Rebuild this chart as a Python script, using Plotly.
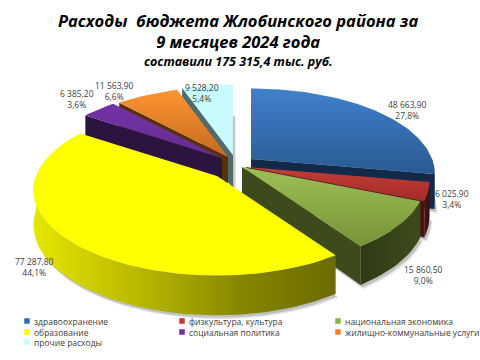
import math
import plotly.graph_objects as go

# ---------- data ----------
categories = ["здравоохранение", "физкультура, культура", "национальная экономика",
              "образование", "социальная политика", "жилищно-коммунальные услуги",
              "прочие расходы"]
values = [48663.9, 6025.9, 15860.5, 77287.8, 6385.2, 11563.9, 9528.2]
value_labels = ["48 663,90", "6 025,90", "15 860,50", "77 287,80", "6 385,20", "11 563,90", "9 528,20"]
pct_labels = ["27,8%", "3,4%", "9,0%", "44,1%", "3,6%", "6,6%", "5,4%"]
title_lines = ["Расходы  бюджета Жлобинского района за", "9 месяцев 2024 года"]
subtitle = "составили 175 315,4 тыс. руб."

# ---------- styles / layout ----------
FONT = "'Open Sans', sans-serif"
TITLE_FONT = "'Open Sans', sans-serif"
RX, RY, K, DEPTH = 181, 85, 0.17, 34
centers = [(251, 159), (246, 167), (242, 167), (217, 176), (222, 158), (228, 157), (233, 155)]
top_grad = [("#2A5A92", "#4080CC"), ("#A32C28", "#C43D37"), ("#779438", "#9DBF57"),
            ("#FFFF00", "#FFFF00"), ("#652C90", "#7432A6"), ("#C46A1E", "#FF9433"),
            ("#C8FBFB", "#C8FBFB")]
wall_col = ["#12294A", "#4A1212", "#3D4B1C", "#8A8A00", "#2B1440", "#5A2F0C", "#516B6B"]
arc_grad = {
    0: [[0, "#12294A"], [1, "#12294A"]],
    1: [[0, "#4A1212"], [1, "#3A0E0E"]],
    2: [[0, "#2F3A14"], [1, "#3D4B1C"]],
    3: [[0, "#E6E600"], [0.35, "#B8B800"], [0.7, "#858500"], [1, "#6B6B00"]],
}
label_pos = [(407, 104), (452, 193), (423, 269), (34, 261), (77, 93), (114, 85), (202, 87)]
legend_pos = [(27, 321), (182, 321), (338, 321), (27, 332), (182, 332), (338, 332), (27, 342)]
legend_col = ["#2F6DB5", "#C0392F", "#8DB048", "#FFFF00", "#7030A0", "#F58220", "#C8FBFB"]
draw_order = [6, 5, 4, 0, 1, 2, 3]

# ---------- geometry from values ----------
total = sum(values)
bounds, acc = [], 0.0
for v in values:
    bounds.append((acc / total * 360, (acc + v) / total * 360))
    acc += v


def pt(i, deg):
    a = math.radians(deg)
    u, v = math.sin(a), -math.cos(a)
    s = 1 + K * v
    return centers[i][0] + RX * u * s, centers[i][1] + RY * v * s, DEPTH * s


def arc(i, a0, a1, n=None):
    n = n or max(2, int(abs(a1 - a0) / 1.5))
    return [pt(i, a0 + (a1 - a0) * t / n) for t in range(n + 1)]


fig = go.Figure()


def poly(xs, ys, color=None, grad=None, gtype="vertical"):
    xs, ys = list(xs) + [xs[0]], list(ys) + [ys[0]]
    kw = dict(x=xs, y=ys, mode="lines", fill="toself", line=dict(width=0),
              hoverinfo="skip", showlegend=False)
    if grad:
        kw["fillgradient"] = dict(type=gtype, colorscale=grad)
    else:
        kw["fillcolor"] = color
    fig.add_trace(go.Scatter(**kw))


# soft shadows underneath
for i in draw_order:
    a0, a1 = bounds[i]
    cx, cy = centers[i]
    pts = arc(i, a0, a1)
    for off, alpha in ((4, 0.10), (2.5, 0.16)):
        xs = [cx + off * 0.7] + [p[0] + off * 0.7 for p in pts]
        ys = [cy + DEPTH + off] + [p[1] + p[2] + off for p in pts]
        poly(xs, ys, f"rgba(0,0,0,{alpha})")

for i in draw_order:
    a0, a1 = bounds[i]
    cx, cy = centers[i]
    # radial walls that face the viewer
    for deg, visible in ((a0, 180 < a0 < 360), (a1, 0 < a1 < 180)):
        if visible:
            x, y, d = pt(i, deg)
            poly([cx, x, x, cx], [cy, y, y + d, cy + DEPTH], wall_col[i])
    # rim wall
    lo, hi = max(a0, 90), min(a1, 270)
    if hi > lo:
        pts = arc(i, lo, hi)
        xs = [p[0] for p in pts] + [p[0] for p in reversed(pts)]
        ys = [p[1] for p in pts] + [p[1] + p[2] for p in reversed(pts)]
        poly(xs, ys, grad=arc_grad[i], gtype="horizontal")
    # top face
    pts = arc(i, a0, a1)
    xs = [cx] + [p[0] for p in pts]
    ys = [cy] + [p[1] for p in pts]
    poly(xs, ys, grad=[[0, top_grad[i][0]], [1, top_grad[i][1]]])

# legend squares
for name, (x, y), c in zip(categories, legend_pos, legend_col):
    fig.add_trace(go.Scatter(x=[x], y=[y], mode="markers", name=name, hoverinfo="skip", showlegend=False,
                             marker=dict(symbol="square", size=5.5, color=c)))

ann = []
for name, (x, y) in zip(categories, legend_pos):
    ann.append(dict(x=x + 5, y=y, text=name, xanchor="left", yanchor="middle", showarrow=False,
                    font=dict(family=FONT, size=8.5, color="#404040")))
for v, p, (x, y) in zip(value_labels, pct_labels, label_pos):
    ann.append(dict(x=x, y=y + 5.5, text=f"{v}<br>{p}", xanchor="center", yanchor="middle", showarrow=False,
                    font=dict(family=FONT, size=8.5, color="#404040")))
ann.append(dict(x=238, y=31, text="<br>".join(f"<b><i>{t}</i></b>" for t in title_lines),
                xanchor="center", yanchor="middle", showarrow=False,
                font=dict(family=TITLE_FONT, size=16.5, color="#000000")))
ann.append(dict(x=238, y=61, text=f"<b><i>{subtitle}</i></b>", xanchor="center", yanchor="middle",
                showarrow=False, font=dict(family=TITLE_FONT, size=12.5, color="#000000")))

fig.update_layout(width=480, height=360, margin=dict(l=0, r=0, t=0, b=0),
                  paper_bgcolor="white", plot_bgcolor="white", annotations=ann,
                  xaxis=dict(range=[0, 480], visible=False, fixedrange=True),
                  yaxis=dict(range=[360, 0], visible=False, fixedrange=True))
fig.write_html("out.html", post_script="document.body.style.margin='0';", config={"displayModeBar": False})
